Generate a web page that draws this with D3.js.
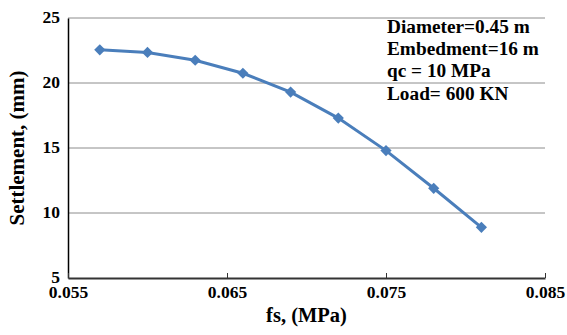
<!DOCTYPE html>
<html><head><meta charset="utf-8">
<script src="https://cdn.jsdelivr.net/npm/d3@7"></script>
<style>body{margin:0;background:#fff}svg{display:block}text{font-family:"Liberation Serif","Times New Roman",serif;font-weight:bold;fill:#000}</style>
</head><body><svg id="c" width="567" height="335"></svg>
<script>
const fsValues = [0.057, 0.060, 0.063, 0.066, 0.069, 0.072, 0.075, 0.078, 0.081];
const settlement = [22.55, 22.35, 21.75, 20.75, 19.3, 17.3, 14.8, 11.9, 8.9];
const xTicks = [0.055, 0.065, 0.075, 0.085];
const yTicks = [5, 10, 15, 20, 25];
const notes = ["Diameter=0.45 m", "Embedment=16 m", "qc = 10 MPa", "Load= 600 KN"];

const svg = d3.select("#c");
const m = {l: 68, r: 22, t: 18, b: 57};
const W = 567, H = 335;
const x = d3.scaleLinear().domain([0.055, 0.085]).range([m.l, W - m.r]);
const y = d3.scaleLinear().domain([5, 25]).range([H - m.b, m.t]);

// gridlines
svg.append("g").selectAll("line").data(yTicks.filter(d => d > 5)).join("line")
  .attr("x1", m.l).attr("x2", W - m.r).attr("y1", d => y(d)).attr("y2", d => y(d))
  .attr("stroke", "#8c8c8c").attr("stroke-width", 1);

// y axis
const ya = svg.append("g").attr("transform", `translate(${m.l},0)`)
  .call(d3.axisLeft(y).tickValues(yTicks).tickSize(0).tickPadding(8).tickFormat(d3.format("d")));
ya.select(".domain").attr("stroke", "#000").attr("stroke-width", 1.5);
ya.selectAll("text").style("font-size", "17.5px").attr("dy", "0.25em");

// x axis
const xa = svg.append("g").attr("transform", `translate(0,${H - m.b})`)
  .call(d3.axisBottom(x).tickValues(xTicks).tickSizeInner(-5).tickSizeOuter(0).tickPadding(6).tickFormat(d3.format(".3f")));
xa.select(".domain").attr("stroke", "#333").attr("stroke-width", 2);
xa.selectAll(".tick line").attr("stroke", "#333");
xa.selectAll("text").style("font-size", "17.5px").attr("dy", "0.82em");

// line
const pts = fsValues.map((v, i) => [v, settlement[i]]);
svg.append("path").datum(pts)
  .attr("d", d3.line().x(d => x(d[0])).y(d => y(d[1])))
  .attr("fill", "none").attr("stroke", "#4a7ebb").attr("stroke-width", 3);
svg.append("g").selectAll("path").data(pts).join("path")
  .attr("d", d3.symbol(d3.symbolDiamond2, 80)())
  .attr("transform", d => `translate(${x(d[0])},${y(d[1])})`)
  .attr("fill", "#4a7ebb");

// annotation
svg.append("g").selectAll("text").data(notes).join("text")
  .attr("x", 387).attr("y", (d, i) => 33 + i * 22.2)
  .style("font-size", "19.3px").text(d => d);

// axis titles
svg.append("text").attr("x", (m.l + W - m.r) / 2).attr("y", 322)
  .attr("text-anchor", "middle").style("font-size", "20.5px").text("fs, (MPa)");
svg.append("text").attr("transform", `translate(24,${(m.t + H - m.b) / 2}) rotate(-90)`)
  .attr("text-anchor", "middle").style("font-size", "21px").text("Settlement, (mm)");
</script></body></html>
